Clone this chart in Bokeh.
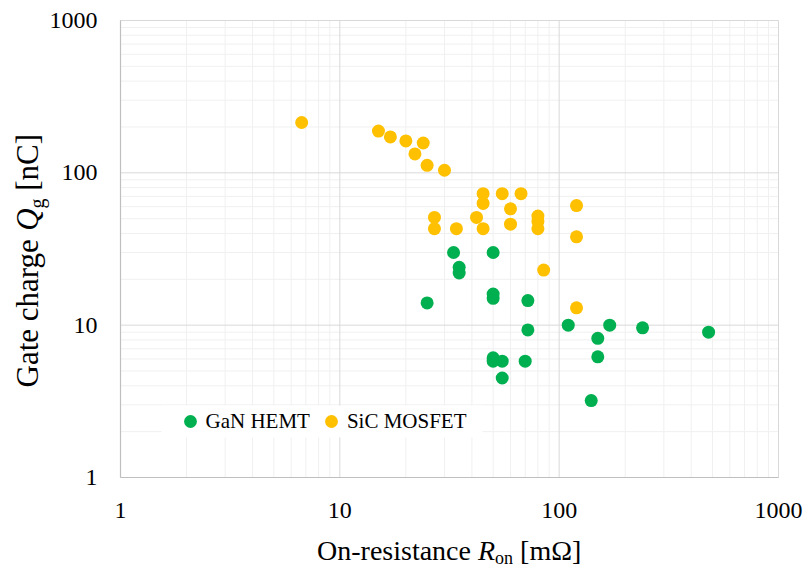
from math import pi, log10

from bokeh.plotting import figure
from bokeh.models import Range1d, Legend, LegendItem, Label, BoxAnnotation
from bokeh.embed import file_html
from bokeh.resources import INLINE

# On-resistance [mOhm] and gate charge [nC] of each device
gan_ron = [33, 50, 35, 35, 25, 50, 50, 72, 110, 170, 240, 480, 72, 150, 150, 50, 50, 55, 70, 55, 140]
gan_qg = [30, 30, 24, 22, 14, 16, 15, 14.5, 10, 10, 9.6, 9.0, 9.3, 8.2, 6.2, 6.1, 5.8, 5.8, 5.8, 4.5, 3.2]

sic_ron = [6.7, 15, 17, 20, 24, 22, 25, 30, 45, 55, 67, 45, 120, 60, 27, 42, 80, 80, 60, 27, 34, 45, 80, 120, 85, 120]
sic_qg = [214, 188, 172, 162, 157, 133, 112, 104, 73, 73, 73, 63, 61, 58, 51, 51, 52, 48, 46, 43, 43, 43, 43, 38, 23, 13]

series_names = ["GaN HEMT", "SiC MOSFET"]
series_colors = ["#00B050", "#FFC000"]

decades = [1, 10, 100, 1000]
tick_labels = ["1", "10", "100", "1000"]
minor = [m * d for d in decades[:-1] for m in range(2, 10)]

# page geometry in pixels; the plot area spans FL..FR, FT..FB
W, H = 808, 569
FL, FR, FT, FB = 120, 778, 20, 477
FONT = "Liberation Serif"

# the frame covers the whole page, so the log ranges are widened to put
# 1..1000 exactly on the plot area
nx = log10(decades[-1] / decades[0])
ny = nx
px_dec = (FR - FL) / nx
py_dec = (FB - FT) / ny
x_range = Range1d(10 ** (-FL / px_dec), 10 ** ((W - FL) / px_dec))
y_range = Range1d(10 ** (-(H - FB) / py_dec), 10 ** (FB / py_dec))

p = figure(width=W, height=H, x_axis_type="log", y_axis_type="log",
           x_range=x_range, y_range=y_range,
           x_axis_location=None, y_axis_location=None,
           output_backend="svg", toolbar_location=None, min_border=0)
p.outline_line_color = None
p.background_fill_color = "white"
p.border_fill_color = "white"
p.grid.visible = False

lo, hi = decades[0], decades[-1]

# minor grid
p.segment(x0=minor, y0=[lo] * len(minor), x1=minor, y1=[hi] * len(minor),
          line_color="#f0f0f0", line_width=1, level="underlay")
p.segment(x0=[lo] * len(minor), y0=minor, x1=[hi] * len(minor), y1=minor,
          line_color="#f0f0f0", line_width=1, level="underlay")
# major grid and plot-area border
p.segment(x0=decades, y0=[lo] * 4, x1=decades, y1=[hi] * 4,
          line_color="#d9d9d9", line_width=1, level="underlay")
p.segment(x0=[lo] * 4, y0=decades, x1=[hi] * 4, y1=decades,
          line_color="#d9d9d9", line_width=1, level="underlay")
# axis lines
p.segment(x0=[lo, lo], y0=[lo, lo], x1=[hi, lo], y1=[lo, hi],
          line_color="#bfbfbf", line_width=1.2, level="underlay")

# tick labels
p.text(x=decades, y=[lo] * 4, text=tick_labels, x_offset=0, y_offset=33,
       text_align="center", text_baseline="middle",
       text_font={"value": FONT}, text_font_size="24px", text_color="black")
p.text(x=[lo] * 4, y=decades, text=tick_labels, x_offset=-23, y_offset=0,
       text_align="right", text_baseline="middle",
       text_font={"value": FONT}, text_font_size="24px", text_color="black")

r_gan = p.scatter(gan_ron, gan_qg, size=13, color=series_colors[0], line_color=None)
r_sic = p.scatter(sic_ron, sic_qg, size=13, color=series_colors[1], line_color=None)

# white panel behind the legend, hiding the grid there
p.add_layout(BoxAnnotation(left=161, right=482, top=H - 405, bottom=H - 437,
                           left_units="screen", right_units="screen",
                           top_units="screen", bottom_units="screen",
                           fill_color="white", fill_alpha=1.0, line_color=None))

legend = Legend(items=[LegendItem(label=series_names[0], renderers=[r_gan]),
                       LegendItem(label=series_names[1], renderers=[r_sic])],
                orientation="horizontal", location=(173.5, H - 437),
                padding=0, margin=0, spacing=5, glyph_width=32, glyph_height=32,
                label_standoff=0, label_height=20,
                label_text_font=FONT, label_text_font_size="21px",
                label_text_color="black",
                background_fill_alpha=0.0, border_line_color=None)
p.add_layout(legend)

# advance widths (per em) of the serif face used for the axis titles
REG = {"O": .722, "n": .5, "-": .333, "r": .333, "e": .444, "s": .389, "i": .278,
       "t": .278, "a": .444, "c": .444, " ": .25, "[": .333, "m": .778, "Ω": .768,
       "]": .333, "G": .722, "h": .5, "g": .5, "C": .667, "o": .5}
ITA = {"R": .611, "Q": .722}
BASE_SHIFT = 0.31  # label anchor sits below the alphabetic baseline by about this many ems


def width(text, size, italic):
    table = ITA if italic else REG
    return sum(table[ch] for ch in text) * size


def title_runs(runs, x0, y0, vertical):
    """Place text runs (text, size, italic, drop) one after another from page point (x0, y0)."""
    pos = 0.0
    for text, size, italic, drop in runs:
        body = text.strip(" ")
        lead = len(text) - len(text.lstrip(" "))
        pos += width(" " * lead, size, False)
        d = drop - BASE_SHIFT * size
        if vertical:
            cx, cy, ang = x0 + d, y0 - pos, pi / 2
        else:
            cx, cy, ang = x0 + pos, y0 + d, 0
        p.add_layout(Label(x=cx, y=H - cy, x_units="screen", y_units="screen",
                           text=body, text_font=FONT, text_font_size=f"{size}px",
                           text_font_style="italic" if italic else "normal",
                           text_align="left", text_baseline="alphabetic",
                           angle=ang, text_color="black"))
        pos += width(text.lstrip(" "), size, italic)


xs, xsub = 28, 18
x_runs = [("On-resistance ", xs, False, 0), ("R", xs, True, 0),
          ("on", xsub, False, 4), (" [mΩ]", xs, False, 0)]
x_total = sum(width(t, s, it) for t, s, it, _ in x_runs)
title_runs(x_runs, (FL + FR) / 2 - x_total / 2, 559, False)

ys, ysub = 31, 20
y_runs = [("Gate charge ", ys, False, 0), ("Q", ys, True, 0),
          ("g", ysub, False, 6), (" [nC]", ys, False, 0)]
title_runs(y_runs, 37, 387, True)

open("out.html", "w").write(file_html(p, INLINE))
